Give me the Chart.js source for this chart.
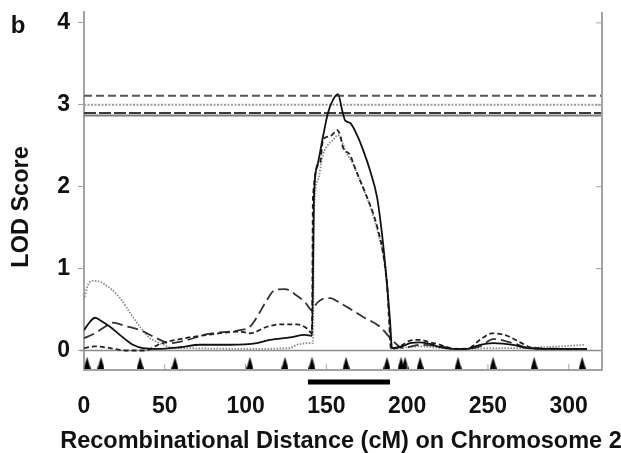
<!DOCTYPE html>
<html>
<head>
<meta charset="utf-8">
<script src="https://cdn.jsdelivr.net/npm/chart.js@4.4.0/dist/chart.umd.min.js"></script>
<style>
  html, body { margin: 0; padding: 0; background: #fff; }
  #wrap { width: 621px; height: 453px; }
</style>
</head>
<body>
<div id="wrap"><canvas id="lod-chart" width="621" height="453"></canvas></div>
<script>
// LOD profiles on chromosome 2: position (cM) and LOD score per trait
const solidCM = [0, 3.7, 6.8, 9.9, 16.1, 24.1, 30.3, 36.5, 45.2, 59.4, 71.8, 90.4, 107.1, 115.1, 127.5, 136.8, 141.1, 142.4, 144.8, 147.9, 151.0, 154.1, 157.2, 159.7, 161.6, 164.6, 169.0, 172.7, 177.0, 181.4, 183.8, 185.7, 187.6, 189.4, 190.6, 195.6, 201.8, 208.0, 214.2, 220.4, 228.4, 237.1, 245.1, 253.2, 265.5, 274.2, 286.6, 311.3];
const solidLOD = [0.25, 0.35, 0.40, 0.37, 0.29, 0.16, 0.07, 0.03, 0.02, 0.04, 0.07, 0.07, 0.09, 0.13, 0.16, 0.19, 0.18, 1.90, 2.29, 2.61, 2.90, 3.06, 3.13, 2.94, 2.81, 2.78, 2.63, 2.45, 2.20, 1.87, 1.53, 1.19, 0.80, 0.37, 0.03, 0.04, 0.09, 0.10, 0.08, 0.04, 0.02, 0.02, 0.07, 0.09, 0.07, 0.03, 0.02, 0.02];

const shortDashCM = [0, 6.8, 16.1, 25.4, 37.8, 47.0, 59.4, 76.1, 96.6, 102.7, 113.3, 121.3, 131.8, 138.0, 141.1, 141.7, 146.1, 147.9, 151.0, 153.5, 156.6, 158.5, 160.3, 164.6, 167.7, 170.8, 175.2, 178.9, 182.0, 185.1, 187.6, 188.8, 190.0, 195.6, 201.8, 208.0, 214.2, 220.4, 228.4, 237.1, 245.1, 252.5, 261.8, 269.9, 277.9, 286.6, 311.3];
const shortDashLOD = [0.03, 0.05, 0.03, 0.0, 0.0, 0.08, 0.14, 0.19, 0.23, 0.21, 0.29, 0.32, 0.32, 0.27, 0.21, 1.87, 2.29, 2.57, 2.61, 2.63, 2.69, 2.63, 2.48, 2.39, 2.23, 2.08, 1.87, 1.68, 1.47, 1.19, 0.80, 0.37, 0.02, 0.05, 0.12, 0.13, 0.10, 0.07, 0.02, 0.02, 0.13, 0.21, 0.18, 0.10, 0.03, 0.02, 0.02];

const longDashCM = [0, 6.8, 13.0, 17.9, 25.4, 34.7, 43.9, 53.2, 62.5, 76.1, 96.6, 102.7, 108.9, 113.3, 118.2, 124.4, 131.8, 136.8, 141.1, 144.2, 147.9, 152.3, 158.5, 164.6, 172.7, 183.2, 190.6, 197.4, 208.0, 220.4, 232.7, 245.1, 253.2, 265.5, 276.1, 311.3];
const longDashLOD = [0.15, 0.21, 0.29, 0.34, 0.30, 0.25, 0.16, 0.09, 0.12, 0.20, 0.25, 0.29, 0.47, 0.62, 0.74, 0.75, 0.67, 0.59, 0.49, 0.58, 0.63, 0.64, 0.58, 0.51, 0.41, 0.29, 0.13, 0.03, 0.07, 0.05, 0.02, 0.05, 0.14, 0.09, 0.03, 0.02];

const dottedCM = [0, 2.5, 5.6, 9.9, 16.1, 22.3, 28.5, 34.7, 40.9, 47.0, 53.2, 62.5, 102.7, 127.5, 131.8, 139.9, 141.7, 142.4, 144.8, 147.9, 151.0, 154.1, 157.2, 159.7, 162.2, 165.9, 169.6, 173.9, 178.3, 182.0, 185.7, 188.2, 189.4, 190.6, 195.6, 208.0, 220.4, 237.1, 253.2, 269.9, 282.2, 294.6, 310.1];
const dottedLOD = [0.62, 0.80, 0.85, 0.84, 0.76, 0.64, 0.46, 0.29, 0.15, 0.09, 0.04, 0.03, 0.02, 0.03, 0.07, 0.09, 0.09, 1.72, 2.08, 2.39, 2.51, 2.57, 2.63, 2.55, 2.42, 2.30, 2.14, 1.93, 1.69, 1.43, 1.10, 0.62, 0.25, 0.02, 0.03, 0.05, 0.03, 0.02, 0.03, 0.03, 0.04, 0.05, 0.07];

// significance thresholds: short dash, dotted, long dash, solid
const thresholds = [3.11, 3.0, 2.9, 2.87];

// marker positions (cM) and the support interval
const markerCM = [1.9, 10.5, 34.7, 56.3, 102.7, 124.4, 141.1, 162.2, 187.5, 196.2, 198.7, 208.0, 231.5, 253.2, 278.6, 308.3];
const intervalCM = [138.6, 189.4];

const xTicks = [0, 50, 100, 150, 200, 250, 300];
const yTicks = [0, 1, 2, 3, 4];

const X_MAX = 320.6;
const Y_MIN = -0.238;
const Y_MAX = 4.133;
const MARKER_ROW = -0.15;
const BAR_ROW = -0.385;
const AXIS_GRAY = "#a3a3a3";
const FONT = "'Liberation Sans', Arial, sans-serif";

function toPoints(xs, ys) {
  return xs.map((x, i) => ({ x: x, y: ys[i] }));
}

function triangleImage() {
  const c = document.createElement("canvas");
  c.width = 7;
  c.height = 12;
  const g = c.getContext("2d");
  g.fillStyle = "#000";
  g.beginPath();
  g.moveTo(3.5, 0);
  g.lineTo(7, 12);
  g.lineTo(0, 12);
  g.closePath();
  g.fill();
  return c;
}

function curve(xs, ys, color, dash, width) {
  return {
    data: toPoints(xs, ys),
    borderColor: color,
    borderWidth: width,
    borderDash: dash,
    pointRadius: 0,
    cubicInterpolationMode: "monotone"
  };
}

function thresholdLine(value, color, dash) {
  return {
    data: [{ x: 0, y: value }, { x: X_MAX, y: value }],
    borderColor: color,
    borderWidth: 2,
    borderDash: dash,
    pointRadius: 0
  };
}

const thresholdStyles = [
  ["#555555", [8, 4]],
  ["#9a9a9a", [2, 1.5]],
  ["#3c3c3c", [12, 3]],
  ["#7a7a7a", []]
];

const datasets = [
  curve(solidCM, solidLOD, "#111111", [], 1.8),
  curve(shortDashCM, shortDashLOD, "#222222", [5, 3], 1.8),
  curve(longDashCM, longDashLOD, "#333333", [11, 5], 1.8),
  curve(dottedCM, dottedLOD, "#8a8a8a", [1.5, 1.5], 1.8),
  {
    data: markerCM.map(x => ({ x: x, y: MARKER_ROW })),
    showLine: false,
    pointStyle: triangleImage(),
    pointRadius: 6,
    clip: false
  },
  {
    data: intervalCM.map(x => ({ x: x, y: BAR_ROW })),
    borderColor: "#000",
    borderWidth: 5,
    borderCapStyle: "butt",
    pointRadius: 0,
    clip: false
  }
];
// thresholds go last so the curves sit on top
thresholds.forEach((v, i) => {
  const [color, dash] = thresholdStyles[i];
  datasets.push(thresholdLine(v, color, dash));
});

const decorations = {
  id: "decorations",
  beforeDatasetsDraw(chart) {
    const { ctx, chartArea, scales } = chart;
    const y0 = scales.y.getPixelForValue(0);
    ctx.save();
    ctx.strokeStyle = "#8c8c8c";
    ctx.lineWidth = 1.5;
    ctx.beginPath();
    ctx.moveTo(chartArea.left - 4, y0);
    ctx.lineTo(chartArea.right, y0);
    ctx.stroke();
    ctx.restore();
  },
  afterDraw(chart) {
    const { ctx, chartArea, scales } = chart;
    ctx.save();
    // right frame line with inward ticks
    ctx.strokeStyle = AXIS_GRAY;
    ctx.lineWidth = 2;
    ctx.beginPath();
    ctx.moveTo(chartArea.right, chartArea.top);
    ctx.lineTo(chartArea.right, chartArea.bottom);
    ctx.stroke();
    ctx.lineWidth = 1;
    yTicks.filter(v => v > 0).forEach(v => {
      const py = scales.y.getPixelForValue(v);
      ctx.beginPath();
      ctx.moveTo(chartArea.right - 6, py);
      ctx.lineTo(chartArea.right, py);
      ctx.stroke();
    });
    // small inward ticks on the bottom line
    xTicks.forEach(v => {
      const px = scales.x.getPixelForValue(v);
      ctx.beginPath();
      ctx.moveTo(px, chartArea.bottom - 6);
      ctx.lineTo(px, chartArea.bottom);
      ctx.stroke();
    });

    // axis titles and panel letter (the x title is wider than the plot)
    ctx.fillStyle = "#111";
    ctx.textAlign = "center";
    ctx.textBaseline = "middle";
    ctx.font = "bold 24px " + FONT;
    ctx.fillText("b", 18, 26);

    ctx.font = "bold 23.5px " + FONT;
    ctx.fillText("Recombinational Distance (cM) on Chromosome 2", 341, 442);

    ctx.translate(22, 207);
    ctx.rotate(-Math.PI / 2);
    ctx.fillText("LOD Score", 0, 0);
    ctx.restore();
  }
};

const chart = new Chart(document.getElementById("lod-chart"), {
  type: "line",
  data: { datasets: datasets },
  options: {
    responsive: false,
    animation: false,
    events: [],
    layout: { padding: { top: 12, right: 19, left: 0, bottom: 0 } },
    plugins: { legend: { display: false }, tooltip: { enabled: false } },
    scales: {
      x: {
        type: "linear",
        min: 0,
        max: X_MAX,
        afterBuildTicks: s => { s.ticks = xTicks.map(v => ({ value: v })); },
        afterFit: s => { s.height = 83; s.paddingLeft = 0; s.paddingRight = 0; },
        border: { display: true, color: AXIS_GRAY, width: 2 },
        grid: { drawOnChartArea: false, drawTicks: false },
        ticks: {
          padding: 25,
          color: "#111",
          font: { family: FONT, size: 23, weight: "bold", lineHeight: 1 }
        }
      },
      y: {
        type: "linear",
        min: Y_MIN,
        max: Y_MAX,
        afterBuildTicks: s => { s.ticks = yTicks.map(v => ({ value: v })); },
        afterFit: s => { s.width = 84; s.paddingTop = 0; s.paddingBottom = 0; },
        border: { display: true, color: AXIS_GRAY, width: 2 },
        grid: { drawOnChartArea: false, drawTicks: true, tickLength: 6, color: AXIS_GRAY },
        ticks: {
          padding: 8,
          color: "#111",
          font: { family: FONT, size: 23, weight: "bold", lineHeight: 1 }
        }
      }
    }
  },
  plugins: [decorations]
});
</script>
</body>
</html>
